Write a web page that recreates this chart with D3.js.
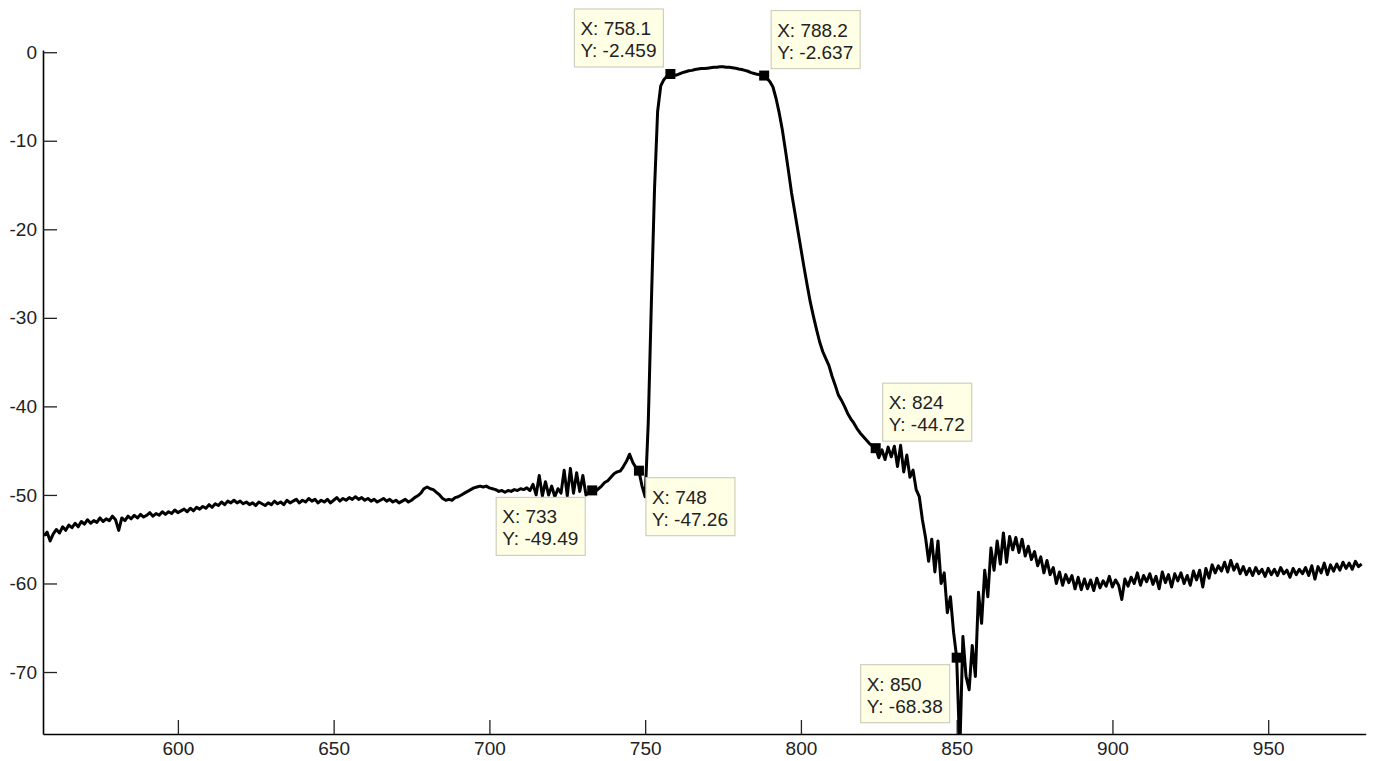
<!DOCTYPE html>
<html>
<head>
<meta charset="utf-8">
<script src="https://cdn.jsdelivr.net/npm/d3@7"></script>
<style>
  body { margin: 0; background: #fff; }
  .tick text, .tip text { font-family: "Liberation Sans", Arial, sans-serif; }
</style>
</head>
<body>
<div class="chart"></div>
<script>
var svgWidth = 1373;
var svgHeight = 761;

// plot box (MATLAB style axes: left + bottom only)
var plotLeft = 43, plotRight = 1365.7, plotTop = 50, plotBottom = 734;

// spectrum, one value per nm starting at 557 nm
var lossStart = 557;
var lossValues = [
  -54.6, -54.2, -55.2, -54.4, -53.9, -54.3, -53.6, -54.0, -53.4, -53.7,
  -53.2, -53.6, -53.0, -53.3, -52.8, -53.2, -52.9, -53.1, -52.6, -53.0,
  -52.7, -52.9, -52.4, -52.8, -54.0, -52.6, -52.9, -52.4, -52.7, -52.3,
  -52.6, -52.2, -52.5, -52.3, -52.0, -52.4, -52.1, -52.3, -51.9, -52.2,
  -51.9, -52.1, -51.7, -52.0, -51.8, -51.6, -51.9, -51.5, -51.8, -51.4,
  -51.6, -51.3, -51.5, -51.1, -51.4, -51.0, -51.2, -50.8, -51.1, -50.7,
  -50.9, -50.6, -50.9, -50.7, -51.0, -50.8, -51.1, -50.9, -51.2, -50.8,
  -51.0, -51.2, -50.9, -51.1, -50.7, -51.0, -50.8, -51.1, -50.6, -50.9,
  -50.7, -50.5, -50.9, -50.6, -50.8, -50.4, -50.7, -50.5, -50.9, -50.6,
  -50.8, -50.5, -50.9, -50.6, -50.3, -50.7, -50.4, -50.6, -50.3, -50.5,
  -50.2, -50.5, -50.3, -50.6, -50.4, -50.7, -50.5, -50.8, -50.6, -50.4,
  -50.7, -50.5, -50.8, -50.6, -50.9, -50.7, -50.5, -50.8, -50.6, -50.3,
  -50.1, -49.8, -49.3, -49.1, -49.3, -49.4, -49.7, -50.0, -50.4, -50.6,
  -50.5, -50.6, -50.3, -50.2, -50.0, -49.8, -49.6, -49.4, -49.2, -49.1,
  -49.0, -49.1, -49.0, -49.2, -49.3, -49.4, -49.6, -49.5, -49.7, -49.5,
  -49.6, -49.4, -49.5, -49.3, -49.4, -49.2, -49.5, -48.8, -50.0, -47.8,
  -50.1, -48.5, -50.0, -49.0, -50.2, -49.3, -49.8, -47.2, -50.1, -47.0,
  -49.8, -47.5, -49.6, -47.8, -50.0, -49.7, -49.5, -49.6, -49.3, -49.0,
  -48.6, -48.4, -48.0, -47.6, -47.4, -47.3, -46.8, -46.2, -45.4, -46.3,
  -46.9, -47.3, -49.0, -50.2, -41.8, -28.2, -15.5, -6.7, -3.8, -3.1,
  -2.7, -2.5, -2.55, -2.6, -2.45, -2.3, -2.2, -2.1, -2.05, -1.95,
  -1.9, -1.85, -1.85, -1.8, -1.75, -1.7, -1.7, -1.65, -1.65, -1.7,
  -1.7, -1.75, -1.8, -1.9, -1.95, -2.05, -2.15, -2.3, -2.4, -2.5,
  -2.55, -2.62, -2.9, -3.3, -3.9, -5.2, -6.8, -8.7, -11.0, -13.4,
  -15.9, -18.0, -20.1, -22.2, -24.3, -26.3, -28.2, -29.8, -31.3, -32.7,
  -33.8, -34.6, -35.4, -36.6, -37.6, -38.7, -39.3, -40.0, -40.8, -41.4,
  -41.9, -42.5, -43.0, -43.4, -43.8, -44.2, -44.5, -44.72, -45.8, -44.9,
  -46.0, -44.6, -45.7, -44.5, -46.8, -44.4, -47.4, -45.5, -48.0, -47.2,
  -49.4, -50.2, -52.8, -54.8, -57.5, -55.0, -58.7, -55.2, -60.0, -58.8,
  -63.3, -61.5, -65.5, -68.38, -79.0, -66.0, -70.5, -72.0, -67.0, -70.5,
  -61.0, -64.5, -58.5, -61.5, -56.0, -58.5, -55.2, -57.8, -54.3, -57.6,
  -54.7, -56.2, -54.8, -56.5, -55.0, -56.9, -55.8, -57.3, -56.4, -58.0,
  -57.0, -58.8, -57.4, -59.0, -58.2, -60.0, -58.7, -60.2, -59.0, -59.9,
  -59.1, -60.6, -59.3, -60.7, -59.5, -60.6, -59.6, -60.8, -59.4, -60.5,
  -59.7, -60.3, -59.2, -60.4, -59.6, -60.2, -61.8, -59.5, -60.3, -59.3,
  -60.0, -58.8, -60.2, -59.1, -59.8, -58.9, -60.1, -59.2, -60.6, -58.7,
  -59.9, -59.0, -60.4, -58.9, -59.7, -58.8, -60.0, -59.1, -60.2, -58.6,
  -59.6, -58.5, -60.4, -58.3, -59.4, -57.9, -58.8, -58.0, -58.6, -57.6,
  -58.7, -57.4, -58.5, -57.8, -58.9, -58.1, -59.0, -58.3, -59.1, -58.2,
  -58.9, -58.4, -59.2, -58.3, -59.0, -58.4, -59.1, -58.2, -58.9, -58.5,
  -59.3, -58.3, -59.0, -58.4, -58.9, -58.2, -59.1, -58.0, -59.5, -58.1,
  -58.8, -57.7, -59.0, -57.9, -58.6, -57.8, -58.5, -57.6, -58.3, -57.7,
  -58.4, -57.5, -58.1, -57.8
];

// data cursors
var tipX = [758.1, 788.2, 733, 748, 824, 850];
var tipY = [-2.459, -2.637, -49.49, -47.26, -44.72, -68.38];
var tipSide = ["ul", "ur", "dl", "dr", "ur", "dl"];

// ticks
var xTicks = [600, 650, 700, 750, 800, 850, 900, 950];
var yTicks = [0, -10, -20, -30, -40, -50, -60, -70];

var spectrum = lossValues.map(function (v, i) {
  return { nm: lossStart + i, db: v };
});

var svg = d3.select(".chart")
  .append("svg")
  .attr("width", svgWidth)
  .attr("height", svgHeight)
  .style("display", "block");

var xScale = d3.scaleLinear()
  .domain([556.7, 981.3])
  .range([plotLeft, plotRight]);

var yScale = d3.scaleLinear()
  .domain([-77, 0.25])
  .range([plotBottom, plotTop]);

svg.append("clipPath")
  .attr("id", "plotClip")
  .append("rect")
  .attr("x", plotLeft)
  .attr("y", plotTop)
  .attr("width", plotRight - plotLeft)
  .attr("height", plotBottom - plotTop);

// axes, ticks pointing inward
var bottomAxis = d3.axisBottom(xScale)
  .tickValues(xTicks)
  .tickFormat(d => String(d))
  .tickSizeInner(-14)
  .tickSizeOuter(0)
  .tickPadding(8);

var leftAxis = d3.axisLeft(yScale)
  .tickValues(yTicks)
  .tickFormat(d => String(d))
  .tickSizeInner(-14)
  .tickSizeOuter(0)
  .tickPadding(6);

function styleAxis(g) {
  g.select(".domain").attr("stroke", "#000").attr("stroke-width", 1.6);
  g.selectAll(".tick line").attr("stroke", "#222").attr("stroke-width", 1.3);
  g.selectAll(".tick text")
    .attr("fill", "#222")
    .style("font-size", "19px");
}

svg.append("g")
  .attr("transform", `translate(0, ${plotBottom})`)
  .call(bottomAxis)
  .call(styleAxis);

svg.append("g")
  .attr("transform", `translate(${plotLeft}, 0)`)
  .call(leftAxis)
  .call(styleAxis);

// the trace
var line = d3.line()
  .x(d => xScale(d.nm))
  .y(d => yScale(d.db));

svg.append("path")
  .datum(spectrum)
  .attr("clip-path", "url(#plotClip)")
  .attr("fill", "none")
  .attr("stroke", "#000")
  .attr("stroke-width", 3)
  .attr("stroke-linejoin", "round")
  .attr("d", line);

// data cursor boxes
var boxW = 89, boxH = 58, gap = 7;

var tips = svg.selectAll(".tip")
  .data(tipX.map((x, i) => ({ x: x, y: tipY[i], side: tipSide[i] })))
  .enter()
  .append("g")
  .attr("class", "tip");

tips.append("rect")
  .attr("x", d => xScale(d.x) - 5)
  .attr("y", d => yScale(d.y) - 5)
  .attr("width", 10)
  .attr("height", 10)
  .attr("fill", "#000");

var boxes = tips.append("g")
  .attr("transform", function (d) {
    var px = xScale(d.x), py = yScale(d.y);
    var bx = d.side[1] == "l" ? px - gap - boxW : px + gap;
    var by = d.side[0] == "u" ? py - gap - boxH : py + gap;
    return `translate(${bx}, ${by})`;
  });

boxes.append("rect")
  .attr("width", boxW)
  .attr("height", boxH)
  .attr("fill", "#ffffe6")
  .attr("stroke", "#cfcfbf")
  .attr("stroke-width", 1.2);

boxes.append("text")
  .attr("x", 6)
  .attr("y", 26)
  .attr("fill", "#222")
  .style("font-size", "19px")
  .text(d => "X: " + d.x);

boxes.append("text")
  .attr("x", 6)
  .attr("y", 48)
  .attr("fill", "#222")
  .style("font-size", "19px")
  .text(d => "Y: " + d.y);
</script>
</body>
</html>
